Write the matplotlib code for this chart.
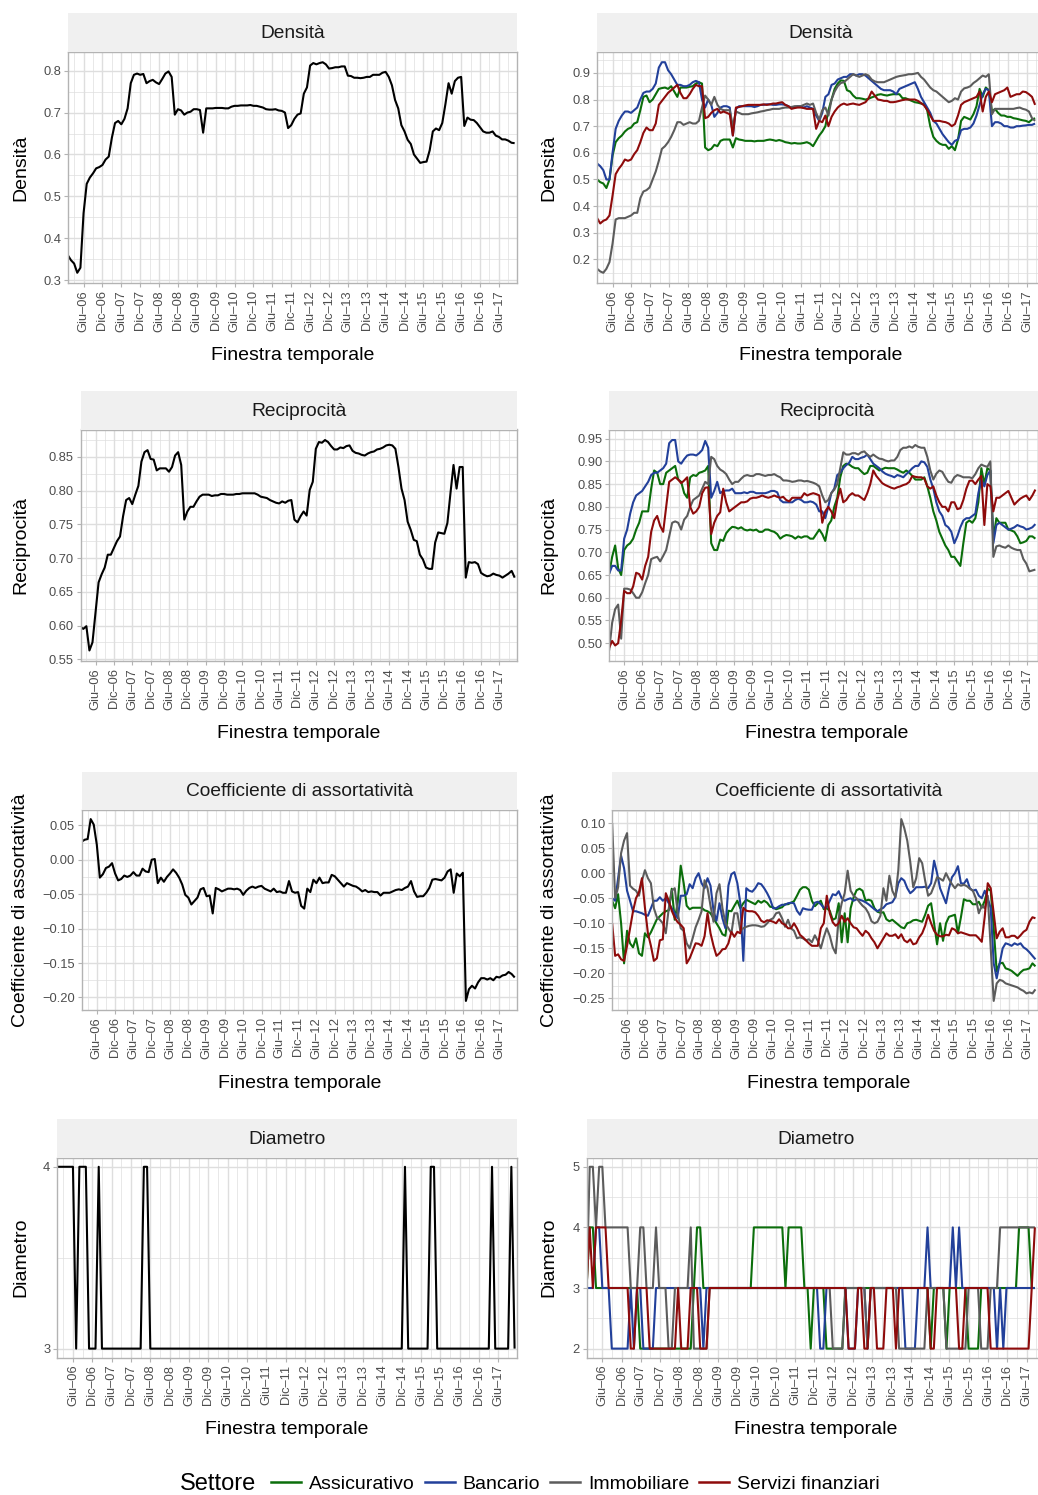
import numpy as np
import matplotlib
matplotlib.use('Agg')
import matplotlib.pyplot as plt
from matplotlib.lines import Line2D
from matplotlib.ticker import FixedLocator, FuncFormatter
from matplotlib import font_manager

plt.rcParams['font.family'] = ['Liberation Sans', 'DejaVu Sans']

# ---------------- data ----------------
# time axis: months relative to June 2006 (Giu-06 = 0)
months_left = np.arange(143) - 5.0
months_right = np.linspace(-4.9, 134.6, 143)

tick_months = [0, 6, 12, 18, 24, 30, 36, 42, 48, 54, 60, 66, 72, 78, 84, 90, 96, 102, 108, 114, 120, 126, 132]
tick_labels = ["Giu\u201306", "Dic\u201306", "Giu\u201307", "Dic\u201307", "Giu\u201308", "Dic\u201308",
               "Giu\u201309", "Dic\u201309", "Giu\u201310", "Dic\u201310", "Giu\u201311", "Dic\u201311",
               "Giu\u201312", "Dic\u201312", "Giu\u201313", "Dic\u201313", "Giu\u201314", "Dic\u201314",
               "Giu\u201315", "Dic\u201315", "Giu\u201316", "Dic\u201316", "Giu\u201317"]

settori = ["Assicurativo", "Bancario", "Immobiliare", "Servizi finanziari"]
colori = ["#0B6E0B", "#22409A", "#5C5C5C", "#8E0B0B"]

# --- whole network (left column)
densita_tot = [0.36, 0.348, 0.34, 0.318, 0.33, 0.46, 0.53, 0.545, 0.555, 0.567,
               0.57, 0.575, 0.588, 0.595, 0.64, 0.675, 0.68, 0.672, 0.685, 0.71,
               0.77, 0.79, 0.793, 0.79, 0.792, 0.77, 0.775, 0.778, 0.772, 0.768,
               0.78, 0.793, 0.798, 0.785, 0.695, 0.708, 0.705, 0.695, 0.70, 0.702,
               0.708, 0.708, 0.706, 0.652, 0.71, 0.71, 0.71, 0.711, 0.711, 0.711,
               0.71, 0.71, 0.714, 0.716, 0.716, 0.717, 0.717, 0.717, 0.718, 0.716,
               0.716, 0.714, 0.712, 0.708, 0.707, 0.707, 0.708, 0.705, 0.704, 0.70,
               0.663, 0.67, 0.685, 0.695, 0.698, 0.745, 0.76, 0.812, 0.818, 0.815,
               0.818, 0.82, 0.815, 0.805, 0.806, 0.808, 0.808, 0.81, 0.81, 0.788,
               0.787, 0.783, 0.783, 0.782, 0.783, 0.785, 0.785, 0.79, 0.79, 0.79,
               0.795, 0.797, 0.785, 0.765, 0.73, 0.71, 0.67, 0.655, 0.635, 0.625,
               0.60, 0.59, 0.58, 0.582, 0.583, 0.61, 0.655, 0.662, 0.658, 0.675,
               0.72, 0.77, 0.745, 0.775, 0.783, 0.785, 0.668, 0.688, 0.683, 0.682,
               0.675, 0.665, 0.655, 0.652, 0.652, 0.655, 0.645, 0.642, 0.636, 0.636,
               0.633, 0.628, 0.627]

reciprocita_tot = [0.598, 0.595, 0.599, 0.563, 0.575, 0.62, 0.664, 0.676, 0.686, 0.705,
                   0.705, 0.715, 0.725, 0.732, 0.762, 0.786, 0.789, 0.78, 0.794, 0.807,
                   0.843, 0.857, 0.86, 0.847, 0.846, 0.83, 0.833, 0.833, 0.833, 0.828,
                   0.835, 0.852, 0.857, 0.838, 0.757, 0.769, 0.776, 0.776, 0.784, 0.791,
                   0.794, 0.794, 0.794, 0.792, 0.793, 0.793, 0.795, 0.795, 0.794, 0.794,
                   0.794, 0.795, 0.795, 0.796, 0.796, 0.796, 0.796, 0.796, 0.794, 0.791,
                   0.79, 0.789, 0.786, 0.784, 0.782, 0.781, 0.784, 0.782, 0.785, 0.786,
                   0.757, 0.753, 0.762, 0.769, 0.763, 0.801, 0.813, 0.862, 0.872, 0.871,
                   0.875, 0.872, 0.866, 0.861, 0.861, 0.864, 0.863, 0.866, 0.867, 0.859,
                   0.856, 0.855, 0.853, 0.852, 0.855, 0.857, 0.858, 0.861, 0.862, 0.864,
                   0.867, 0.868, 0.867, 0.862, 0.835, 0.803, 0.786, 0.754, 0.742, 0.727,
                   0.725, 0.705, 0.698, 0.686, 0.684, 0.684, 0.723, 0.738, 0.737, 0.736,
                   0.752, 0.796, 0.838, 0.803, 0.835, 0.835, 0.671, 0.694, 0.693, 0.694,
                   0.691, 0.678, 0.675, 0.673, 0.674, 0.677, 0.675, 0.674, 0.671, 0.674,
                   0.677, 0.681, 0.671]

assortativita_tot = [0.026, 0.029, 0.030, 0.059, 0.051, 0.022, -0.026, -0.021, -0.012, -0.010,
                     -0.005, -0.020, -0.030, -0.028, -0.023, -0.025, -0.023, -0.018, -0.023, -0.023,
                     -0.013, -0.017, -0.018, 0.000, 0.001, -0.034, -0.026, -0.032, -0.025, -0.020,
                     -0.014, -0.019, -0.026, -0.036, -0.051, -0.055, -0.065, -0.060, -0.055, -0.043,
                     -0.041, -0.053, -0.052, -0.078, -0.041, -0.043, -0.046, -0.044, -0.042, -0.042,
                     -0.043, -0.042, -0.044, -0.051, -0.045, -0.041, -0.039, -0.041, -0.039, -0.038,
                     -0.042, -0.044, -0.046, -0.042, -0.047, -0.046, -0.048, -0.048, -0.031, -0.046,
                     -0.048, -0.047, -0.067, -0.071, -0.042, -0.047, -0.029, -0.034, -0.026, -0.034,
                     -0.033, -0.033, -0.022, -0.024, -0.029, -0.034, -0.039, -0.034, -0.036, -0.038,
                     -0.039, -0.042, -0.046, -0.044, -0.047, -0.046, -0.047, -0.047, -0.052, -0.048,
                     -0.048, -0.048, -0.046, -0.044, -0.043, -0.044, -0.041, -0.039, -0.031, -0.046,
                     -0.054, -0.053, -0.053, -0.048, -0.041, -0.029, -0.028, -0.029, -0.030, -0.026,
                     -0.017, -0.014, -0.048, -0.020, -0.024, -0.019, -0.205, -0.188, -0.183, -0.187,
                     -0.178, -0.172, -0.172, -0.174, -0.172, -0.175, -0.170, -0.171, -0.168, -0.167,
                     -0.163, -0.166, -0.171]

diametro_tot = [4, 4, 4, 4, 4, 4, 3, 4, 4, 4,
                3, 3, 3, 4, 3, 3, 3, 3, 3, 3,
                3, 3, 3, 3, 3, 3, 3, 4, 4, 3,
                3, 3, 3, 3, 3, 3, 3, 3, 3, 3,
                3, 3, 3, 3, 3, 3, 3, 3, 3, 3,
                3, 3, 3, 3, 3, 3, 3, 3, 3, 3,
                3, 3, 3, 3, 3, 3, 3, 3, 3, 3,
                3, 3, 3, 3, 3, 3, 3, 3, 3, 3,
                3, 3, 3, 3, 3, 3, 3, 3, 3, 3,
                3, 3, 3, 3, 3, 3, 3, 3, 3, 3,
                3, 3, 3, 3, 3, 3, 3, 3, 4, 3,
                3, 3, 3, 3, 3, 3, 4, 4, 3, 3,
                3, 3, 3, 3, 3, 3, 3, 3, 3, 3,
                3, 3, 3, 3, 3, 4, 3, 3, 3, 3,
                3, 4, 3]

# --- by sector (right column)
densita_assicurativo = [0.50, 0.49, 0.485, 0.468, 0.50, 0.59, 0.64, 0.655, 0.665, 0.68,
                        0.69, 0.695, 0.71, 0.715, 0.76, 0.81, 0.815, 0.79, 0.80, 0.82,
                        0.84, 0.843, 0.845, 0.84, 0.85, 0.83, 0.81, 0.845, 0.845, 0.845,
                        0.848, 0.85, 0.86, 0.865, 0.86, 0.62, 0.61, 0.615, 0.63, 0.625,
                        0.645, 0.65, 0.65, 0.65, 0.62, 0.655, 0.65, 0.648, 0.645, 0.645,
                        0.645, 0.643, 0.645, 0.645, 0.645, 0.648, 0.65, 0.648, 0.645, 0.648,
                        0.645, 0.64, 0.638, 0.635, 0.637, 0.635, 0.635, 0.637, 0.64, 0.635,
                        0.625, 0.645, 0.665, 0.68, 0.70, 0.76, 0.80, 0.84, 0.86, 0.872,
                        0.87, 0.835, 0.83, 0.815, 0.805, 0.805, 0.803, 0.80, 0.803, 0.808,
                        0.812, 0.818, 0.82, 0.817, 0.815, 0.818, 0.82, 0.82, 0.82, 0.805,
                        0.805, 0.80, 0.795, 0.79, 0.788, 0.785, 0.783, 0.76, 0.70, 0.66,
                        0.645, 0.635, 0.63, 0.63, 0.615, 0.625, 0.61, 0.65, 0.72, 0.735,
                        0.73, 0.725, 0.745, 0.775, 0.84, 0.81, 0.845, 0.835, 0.755, 0.765,
                        0.75, 0.74, 0.74, 0.735, 0.735, 0.73, 0.728, 0.725, 0.722, 0.72,
                        0.715, 0.725, 0.73]

densita_bancario = [0.56, 0.55, 0.535, 0.50, 0.50, 0.60, 0.69, 0.72, 0.74, 0.755,
                    0.755, 0.75, 0.76, 0.77, 0.80, 0.825, 0.83, 0.83, 0.84, 0.86,
                    0.92, 0.94, 0.94, 0.91, 0.895, 0.875, 0.855, 0.855, 0.85, 0.85,
                    0.855, 0.865, 0.87, 0.865, 0.80, 0.77, 0.80, 0.78, 0.735, 0.75,
                    0.77, 0.775, 0.775, 0.77, 0.665, 0.765, 0.775, 0.775, 0.775, 0.775,
                    0.775, 0.772, 0.775, 0.78, 0.78, 0.782, 0.782, 0.78, 0.78, 0.782,
                    0.782, 0.78, 0.775, 0.77, 0.772, 0.775, 0.775, 0.77, 0.775, 0.77,
                    0.765, 0.74, 0.72, 0.75, 0.81, 0.82, 0.855, 0.86, 0.875, 0.88,
                    0.885, 0.885, 0.895, 0.895, 0.89, 0.895, 0.895, 0.89, 0.88, 0.87,
                    0.86, 0.85, 0.84, 0.835, 0.835, 0.835, 0.83, 0.82, 0.84, 0.845,
                    0.85, 0.855, 0.86, 0.865, 0.84, 0.81, 0.79, 0.77, 0.75, 0.72,
                    0.71, 0.69, 0.67, 0.655, 0.64, 0.63, 0.645, 0.65, 0.685, 0.69,
                    0.69, 0.695, 0.71, 0.74, 0.78, 0.82, 0.84, 0.835, 0.70, 0.715,
                    0.715, 0.71, 0.70, 0.70, 0.695, 0.695, 0.70, 0.70, 0.702, 0.703,
                    0.705, 0.705, 0.71]

densita_immobiliare = [0.165, 0.155, 0.15, 0.165, 0.19, 0.26, 0.35, 0.355, 0.355, 0.355,
                       0.36, 0.365, 0.375, 0.375, 0.43, 0.455, 0.46, 0.47, 0.50, 0.53,
                       0.57, 0.615, 0.625, 0.64, 0.66, 0.685, 0.715, 0.715, 0.705, 0.71,
                       0.715, 0.71, 0.71, 0.72, 0.77, 0.815, 0.80, 0.78, 0.81, 0.78,
                       0.765, 0.76, 0.76, 0.76, 0.70, 0.755, 0.75, 0.745, 0.745, 0.745,
                       0.748, 0.75, 0.752, 0.755, 0.757, 0.76, 0.762, 0.765, 0.765, 0.765,
                       0.768, 0.77, 0.77, 0.772, 0.775, 0.775, 0.775, 0.78, 0.785, 0.78,
                       0.785, 0.75, 0.725, 0.76, 0.77, 0.74, 0.80, 0.83, 0.85, 0.862,
                       0.865, 0.875, 0.885, 0.895, 0.89, 0.885, 0.89, 0.895, 0.89, 0.875,
                       0.868, 0.865, 0.865, 0.865, 0.87, 0.875, 0.88, 0.885, 0.888, 0.89,
                       0.892, 0.895, 0.895, 0.897, 0.90, 0.885, 0.875, 0.86, 0.845, 0.835,
                       0.83, 0.82, 0.81, 0.80, 0.79, 0.795, 0.805, 0.80, 0.83, 0.842,
                       0.845, 0.85, 0.862, 0.87, 0.88, 0.89, 0.885, 0.895, 0.745, 0.765,
                       0.765, 0.765, 0.765, 0.765, 0.765, 0.765, 0.768, 0.77, 0.765, 0.762,
                       0.755, 0.73, 0.72]

densita_servizi = [0.355, 0.335, 0.345, 0.35, 0.365, 0.44, 0.52, 0.54, 0.555, 0.575,
                   0.57, 0.575, 0.595, 0.61, 0.64, 0.675, 0.695, 0.685, 0.685, 0.71,
                   0.78, 0.795, 0.81, 0.825, 0.835, 0.845, 0.855, 0.825, 0.805, 0.805,
                   0.82, 0.84, 0.855, 0.85, 0.85, 0.73, 0.735, 0.75, 0.76, 0.765,
                   0.75, 0.755, 0.75, 0.745, 0.665, 0.77, 0.772, 0.775, 0.778, 0.78,
                   0.78, 0.78, 0.78, 0.78, 0.782, 0.78, 0.782, 0.785, 0.785, 0.788,
                   0.79, 0.78, 0.775, 0.765, 0.768, 0.77, 0.77, 0.768, 0.765, 0.765,
                   0.765, 0.69, 0.72, 0.715, 0.74, 0.70, 0.735, 0.755, 0.77, 0.78,
                   0.785, 0.78, 0.783, 0.785, 0.782, 0.78, 0.785, 0.79, 0.805, 0.83,
                   0.815, 0.80, 0.798, 0.795, 0.795, 0.79, 0.79, 0.792, 0.795, 0.798,
                   0.80, 0.80, 0.80, 0.80, 0.795, 0.787, 0.778, 0.762, 0.74, 0.72,
                   0.72, 0.72, 0.717, 0.715, 0.71, 0.70, 0.708, 0.74, 0.78, 0.79,
                   0.795, 0.80, 0.805, 0.81, 0.83, 0.755, 0.81, 0.83, 0.79, 0.82,
                   0.825, 0.83, 0.835, 0.845, 0.81, 0.815, 0.82, 0.82, 0.83, 0.828,
                   0.82, 0.81, 0.78]

reciprocita_assicurativo = [0.653, 0.69, 0.715, 0.665, 0.65, 0.705, 0.715, 0.72, 0.73, 0.75,
                            0.765, 0.79, 0.79, 0.79, 0.84, 0.88, 0.875, 0.85, 0.85, 0.875,
                            0.88, 0.885, 0.89, 0.86, 0.855, 0.83, 0.82, 0.865, 0.87, 0.868,
                            0.875, 0.877, 0.88, 0.89, 0.72, 0.705, 0.705, 0.728, 0.725, 0.742,
                            0.75, 0.756, 0.755, 0.752, 0.755, 0.75, 0.748, 0.75, 0.748, 0.75,
                            0.745, 0.745, 0.75, 0.75, 0.747, 0.745, 0.74, 0.73, 0.735, 0.738,
                            0.737, 0.735, 0.73, 0.735, 0.732, 0.735, 0.735, 0.73, 0.73, 0.74,
                            0.75, 0.74, 0.725, 0.76, 0.77, 0.80, 0.82, 0.865, 0.89, 0.895,
                            0.893, 0.888, 0.885, 0.885, 0.878, 0.872, 0.875, 0.89, 0.89, 0.885,
                            0.88, 0.883, 0.886, 0.885, 0.885, 0.885, 0.882, 0.878, 0.875, 0.88,
                            0.875, 0.868, 0.86, 0.86, 0.86, 0.865, 0.845, 0.82, 0.79, 0.77,
                            0.745, 0.73, 0.715, 0.705, 0.69, 0.69, 0.68, 0.67, 0.72, 0.765,
                            0.77, 0.765, 0.775, 0.81, 0.885, 0.85, 0.885, 0.88, 0.73, 0.775,
                            0.765, 0.765, 0.765, 0.75, 0.748, 0.745, 0.735, 0.72, 0.722, 0.725,
                            0.735, 0.735, 0.73]

reciprocita_bancario = [0.653, 0.67, 0.67, 0.66, 0.66, 0.73, 0.75, 0.785, 0.81, 0.825,
                        0.83, 0.835, 0.845, 0.855, 0.87, 0.875, 0.875, 0.88, 0.885, 0.895,
                        0.94, 0.947, 0.947, 0.90, 0.895, 0.905, 0.913, 0.915, 0.915, 0.913,
                        0.918, 0.925, 0.945, 0.93, 0.82, 0.835, 0.855, 0.83, 0.835, 0.836,
                        0.836, 0.84, 0.83, 0.83, 0.83, 0.832, 0.83, 0.833, 0.833, 0.83,
                        0.83, 0.83, 0.83, 0.832, 0.835, 0.835, 0.832, 0.815, 0.81, 0.81,
                        0.81, 0.81, 0.815, 0.818, 0.815, 0.81, 0.81, 0.812, 0.81, 0.805,
                        0.79, 0.79, 0.775, 0.80, 0.83, 0.84, 0.87, 0.875, 0.885, 0.892,
                        0.897, 0.91, 0.905, 0.905, 0.908, 0.91, 0.915, 0.905, 0.895, 0.89,
                        0.885, 0.878, 0.873, 0.87, 0.868, 0.865, 0.87, 0.868, 0.865, 0.872,
                        0.878, 0.885, 0.89, 0.89, 0.90, 0.898, 0.888, 0.86, 0.84, 0.81,
                        0.79, 0.78, 0.76, 0.755, 0.745, 0.72, 0.735, 0.755, 0.77, 0.775,
                        0.775, 0.78, 0.785, 0.83, 0.86, 0.845, 0.87, 0.88, 0.72, 0.76,
                        0.765, 0.76, 0.755, 0.75, 0.752, 0.755, 0.76, 0.757, 0.755, 0.75,
                        0.752, 0.755, 0.762]

reciprocita_immobiliare = [0.484, 0.545, 0.575, 0.585, 0.51, 0.62, 0.62, 0.618, 0.61, 0.60,
                           0.60, 0.612, 0.632, 0.65, 0.685, 0.688, 0.69, 0.68, 0.692, 0.705,
                           0.735, 0.765, 0.768, 0.765, 0.75, 0.772, 0.78, 0.80, 0.815, 0.82,
                           0.825, 0.84, 0.855, 0.85, 0.91, 0.905, 0.89, 0.882, 0.878, 0.872,
                           0.86, 0.85, 0.855, 0.855, 0.862, 0.868, 0.87, 0.868, 0.868, 0.872,
                           0.872, 0.87, 0.868, 0.87, 0.87, 0.872, 0.868, 0.865, 0.858, 0.858,
                           0.857, 0.855, 0.856, 0.858, 0.858, 0.856, 0.857, 0.855, 0.853, 0.85,
                           0.845, 0.825, 0.81, 0.815, 0.83, 0.838, 0.85, 0.885, 0.92, 0.915,
                           0.915, 0.918, 0.918, 0.915, 0.92, 0.922, 0.915, 0.91, 0.915, 0.91,
                           0.906, 0.905, 0.902, 0.90, 0.902, 0.902, 0.91, 0.925, 0.93, 0.93,
                           0.933, 0.93, 0.936, 0.932, 0.93, 0.93, 0.91, 0.88, 0.86, 0.873,
                           0.88, 0.877, 0.865, 0.855, 0.853, 0.865, 0.87, 0.868, 0.865, 0.865,
                           0.865, 0.863, 0.872, 0.885, 0.893, 0.89, 0.888, 0.90, 0.69, 0.713,
                           0.715, 0.712, 0.71, 0.715, 0.71, 0.707, 0.705, 0.705, 0.685, 0.675,
                           0.658, 0.66, 0.662]

reciprocita_servizi = [0.49, 0.505, 0.495, 0.50, 0.55, 0.615, 0.61, 0.61, 0.625, 0.655,
                       0.652, 0.64, 0.67, 0.69, 0.745, 0.77, 0.78, 0.758, 0.745, 0.80,
                       0.855, 0.86, 0.865, 0.86, 0.852, 0.858, 0.865, 0.80, 0.785, 0.79,
                       0.80, 0.83, 0.842, 0.843, 0.74, 0.765, 0.78, 0.788, 0.84, 0.81,
                       0.79, 0.795, 0.80, 0.805, 0.81, 0.81, 0.812, 0.818, 0.82, 0.82,
                       0.822, 0.825, 0.822, 0.82, 0.822, 0.825, 0.822, 0.82, 0.822, 0.815,
                       0.812, 0.82, 0.82, 0.82, 0.82, 0.83, 0.825, 0.828, 0.83, 0.828,
                       0.825, 0.765, 0.79, 0.80, 0.79, 0.775, 0.815, 0.84, 0.81, 0.815,
                       0.825, 0.83, 0.825, 0.825, 0.82, 0.815, 0.83, 0.85, 0.88, 0.868,
                       0.86, 0.852, 0.848, 0.845, 0.842, 0.84, 0.843, 0.845, 0.848, 0.85,
                       0.855, 0.868, 0.866, 0.865, 0.865, 0.862, 0.845, 0.84, 0.845, 0.825,
                       0.81, 0.80, 0.80, 0.79, 0.81, 0.81, 0.795, 0.797, 0.815, 0.84,
                       0.857, 0.858, 0.85, 0.86, 0.868, 0.76, 0.85, 0.845, 0.79, 0.82,
                       0.82, 0.825, 0.83, 0.835, 0.82, 0.805, 0.812, 0.818, 0.822, 0.825,
                       0.815, 0.825, 0.838]

assortativita_assicurativo = [-0.055, -0.07, -0.042, -0.1, -0.18, -0.115, -0.14, -0.148, -0.13, -0.16,
                              -0.165, -0.12, -0.128, -0.118, -0.105, -0.092, -0.086, -0.08, -0.076, -0.074,
                              -0.031, -0.093, -0.058, 0.015, -0.02, -0.065, -0.072, -0.069, -0.069, -0.069,
                              -0.069, -0.074, -0.076, -0.08, -0.09, -0.10, -0.11, -0.122, -0.125, -0.075,
                              -0.076, -0.065, -0.055, -0.07, -0.06, -0.053, -0.056, -0.059, -0.062, -0.055,
                              -0.059, -0.055, -0.059, -0.067, -0.068, -0.072, -0.07, -0.068, -0.062, -0.062,
                              -0.059, -0.056, -0.045, -0.033, -0.028, -0.028, -0.033, -0.055, -0.066, -0.06,
                              -0.055, -0.072, -0.07, -0.075, -0.093, -0.09, -0.06, -0.138, -0.08, -0.138,
                              -0.07, -0.048, -0.034, -0.031, -0.035, -0.055, -0.053, -0.055, -0.07, -0.077,
                              -0.079, -0.078, -0.092, -0.096, -0.093, -0.098, -0.103, -0.108, -0.11, -0.10,
                              -0.098, -0.094, -0.093, -0.095, -0.097, -0.083, -0.065, -0.06, -0.10, -0.142,
                              -0.10, -0.135, -0.10, -0.087, -0.085, -0.083, -0.12, -0.088, -0.052, -0.055,
                              -0.055, -0.062, -0.062, -0.057, -0.069, -0.055, -0.031, -0.035, -0.11, -0.196,
                              -0.18, -0.179, -0.19, -0.192, -0.195, -0.20, -0.205, -0.198, -0.193, -0.192,
                              -0.19, -0.18, -0.186]

assortativita_bancario = [-0.05, -0.055, -0.01, 0.035, 0.01, -0.035, -0.055, -0.076, -0.076, -0.078,
                          -0.08, -0.083, -0.085, -0.07, -0.055, -0.055, -0.048, -0.055, -0.05, -0.06,
                          -0.07, -0.08, -0.09, -0.045, -0.045, -0.042, -0.022, -0.03, -0.01, 0.0,
                          -0.02, -0.03, -0.01, -0.025, -0.075, -0.095, -0.06, -0.09, -0.11, -0.025,
                          -0.002, 0.002, -0.02, -0.06, -0.175, -0.03, -0.035, -0.037, -0.03, -0.02,
                          -0.022, -0.03, -0.04, -0.052, -0.07, -0.07, -0.066, -0.063, -0.063, -0.06,
                          -0.059, -0.06, -0.075, -0.083, -0.07, -0.072, -0.073, -0.073, -0.059, -0.057,
                          -0.062, -0.069, -0.068, -0.055, -0.042, -0.044, -0.036, -0.05, -0.055, -0.052,
                          -0.05, -0.055, -0.052, -0.053, -0.055, -0.058, -0.062, -0.067, -0.072, -0.076,
                          -0.072, -0.069, -0.062, -0.06, -0.058, -0.048, -0.02, -0.01, -0.015, -0.03,
                          -0.04, -0.035, -0.028, -0.028, -0.028, -0.027, -0.03, -0.02, 0.025, 0.0,
                          -0.03, -0.045, -0.06, -0.03, -0.008, 0.0, 0.014, -0.02, -0.021, -0.012,
                          -0.03, -0.035, -0.033, -0.045, -0.05, -0.035, -0.05, -0.07, -0.18, -0.21,
                          -0.18, -0.15, -0.14, -0.142, -0.145, -0.14, -0.143, -0.14, -0.148, -0.152,
                          -0.158, -0.165, -0.172]

assortativita_immobiliare = [0.10, -0.049, -0.028, 0.04, 0.065, 0.08, -0.025, -0.031, -0.035, -0.045,
                             -0.015, 0.006, -0.01, -0.02, -0.07, -0.088, -0.093, -0.10, -0.12, -0.07,
                             -0.035, -0.03, -0.08, -0.11, -0.115, -0.14, -0.15, -0.13, -0.108, -0.093,
                             -0.076, -0.014, -0.03, -0.065, -0.097, -0.04, -0.022, -0.07, -0.10, -0.11,
                             -0.12, -0.08, -0.08, -0.115, -0.11, -0.107, -0.105, -0.104, -0.104, -0.105,
                             -0.107, -0.106, -0.10, -0.093, -0.09, -0.08, -0.078, -0.09, -0.107, -0.093,
                             -0.11, -0.115, -0.13, -0.128, -0.13, -0.134, -0.132, -0.138, -0.124, -0.135,
                             -0.15, -0.128, -0.11, -0.125, -0.148, -0.16, -0.09, -0.06, -0.04, 0.005,
                             -0.035, -0.045, -0.05, -0.058, -0.065, -0.07, -0.08, -0.096, -0.10, -0.097,
                             -0.085, -0.03, -0.055, -0.005, -0.035, -0.048, 0.006, 0.108, 0.09, 0.065,
                             0.023, -0.028, -0.01, 0.03, 0.02, -0.015, -0.045, -0.04, -0.025, -0.008,
                             -0.011, -0.015, 0.0, -0.012, -0.022, -0.03, -0.022, -0.025, -0.023, -0.026,
                             -0.031, -0.035, -0.05, -0.08, -0.065, -0.07, -0.045, -0.15, -0.255, -0.22,
                             -0.213, -0.215, -0.22, -0.222, -0.224, -0.226, -0.228, -0.232, -0.235, -0.24,
                             -0.238, -0.24, -0.232]

assortativita_servizi = [-0.10, -0.165, -0.162, -0.172, -0.175, -0.145, -0.11, -0.076, -0.05, -0.038,
                         -0.01, -0.069, -0.12, -0.145, -0.175, -0.17, -0.134, -0.132, -0.04, -0.055,
                         -0.075, -0.089, -0.098, -0.103, -0.11, -0.18, -0.17, -0.155, -0.14, -0.141,
                         -0.145, -0.126, -0.08, -0.12, -0.145, -0.165, -0.16, -0.152, -0.151, -0.14,
                         -0.117, -0.127, -0.117, -0.12, -0.069, -0.075, -0.076, -0.076, -0.078, -0.085,
                         -0.095, -0.098, -0.094, -0.095, -0.097, -0.10, -0.092, -0.10, -0.103, -0.11,
                         -0.11, -0.10, -0.11, -0.123, -0.128, -0.134, -0.14, -0.145, -0.145, -0.145,
                         -0.11, -0.10, -0.045, -0.08, -0.098, -0.105, -0.10, -0.085, -0.097, -0.09,
                         -0.10, -0.108, -0.11, -0.118, -0.125, -0.115, -0.12, -0.13, -0.138, -0.15,
                         -0.14, -0.13, -0.12, -0.125, -0.125, -0.122, -0.13, -0.122, -0.134, -0.138,
                         -0.132, -0.142, -0.14, -0.128, -0.12, -0.105, -0.083, -0.10, -0.115, -0.123,
                         -0.126, -0.126, -0.123, -0.124, -0.11, -0.113, -0.12, -0.118, -0.12, -0.122,
                         -0.124, -0.124, -0.124, -0.13, -0.137, -0.086, -0.02, -0.03, -0.08, -0.13,
                         -0.117, -0.11, -0.128, -0.128, -0.125, -0.125, -0.13, -0.124, -0.117, -0.113,
                         -0.097, -0.088, -0.09]

diametro_assicurativo = [3, 4, 4, 3, 3, 3, 3, 3, 3, 3,
                         3, 3, 3, 3, 3, 3, 3, 2, 2, 2,
                         2, 2, 2, 2, 2, 2, 2, 2, 2, 2,
                         2, 2, 2, 2, 3, 4, 4, 3, 3, 3,
                         3, 3, 3, 3, 3, 3, 3, 3, 3, 3,
                         3, 3, 3, 4, 4, 4, 4, 4, 4, 4,
                         4, 4, 4, 3, 4, 4, 4, 4, 4, 3,
                         3, 2, 3, 3, 3, 3, 2, 2, 2, 2,
                         2, 2, 3, 3, 3, 3, 3, 3, 3, 3,
                         3, 3, 3, 3, 3, 3, 3, 3, 3, 3,
                         3, 3, 3, 3, 3, 3, 3, 3, 3, 2,
                         3, 3, 3, 3, 2, 3, 3, 3, 3, 3,
                         3, 2, 2, 2, 2, 3, 3, 3, 3, 3,
                         3, 3, 3, 3, 3, 3, 3, 4, 4, 4,
                         4, 3, 3]

diametro_bancario = [3, 3, 3, 4, 4, 3, 3, 3, 2, 2,
                     2, 2, 2, 2, 3, 2, 3, 3, 2, 2,
                     2, 2, 3, 3, 3, 3, 3, 3, 3, 3,
                     3, 3, 3, 3, 3, 3, 3, 2, 3, 3,
                     3, 3, 3, 3, 3, 3, 3, 3, 3, 3,
                     3, 3, 3, 3, 3, 3, 3, 3, 3, 3,
                     3, 3, 3, 3, 3, 3, 3, 3, 3, 3,
                     3, 3, 3, 3, 2, 2, 3, 3, 3, 3,
                     3, 3, 3, 2, 2, 2, 3, 3, 3, 2,
                     3, 3, 3, 3, 3, 3, 3, 3, 3, 3,
                     3, 2, 2, 2, 2, 3, 3, 3, 4, 3,
                     3, 3, 3, 3, 3, 3, 4, 3, 4, 3,
                     3, 3, 3, 3, 3, 3, 3, 3, 3, 3,
                     2, 3, 2, 3, 3, 3, 3, 3, 3, 3,
                     3, 3, 3]

diametro_immobiliare = [3, 5, 5, 4, 5, 5, 4, 4, 4, 4,
                        4, 4, 4, 4, 3, 3, 3, 4, 4, 3,
                        3, 3, 4, 3, 3, 3, 2, 2, 3, 3,
                        3, 3, 3, 4, 2, 2, 2, 2, 2, 3,
                        3, 3, 3, 3, 3, 3, 3, 3, 3, 3,
                        3, 3, 3, 3, 3, 3, 3, 3, 3, 3,
                        3, 3, 3, 3, 3, 3, 3, 3, 3, 3,
                        3, 3, 3, 3, 3, 3, 3, 3, 2, 2,
                        2, 2, 3, 3, 3, 3, 3, 3, 3, 2,
                        3, 3, 3, 3, 3, 3, 3, 3, 3, 2,
                        2, 2, 2, 2, 2, 2, 2, 2, 3, 3,
                        3, 3, 3, 3, 2, 2, 2, 2, 2, 2,
                        2, 3, 3, 3, 3, 2, 2, 2, 3, 3,
                        3, 4, 4, 4, 4, 4, 4, 4, 4, 4,
                        4, 4, 4]

diametro_servizi = [3, 4, 3, 4, 4, 4, 4, 3, 3, 3,
                    3, 3, 3, 3, 2, 2, 3, 3, 3, 3,
                    2, 2, 2, 2, 2, 2, 2, 2, 2, 3,
                    2, 2, 2, 3, 3, 3, 2, 2, 2, 3,
                    3, 3, 3, 3, 3, 3, 3, 3, 3, 3,
                    3, 3, 3, 3, 3, 3, 3, 3, 3, 3,
                    3, 3, 3, 3, 3, 3, 3, 3, 3, 3,
                    3, 3, 3, 3, 3, 3, 3, 3, 3, 3,
                    3, 3, 3, 2, 2, 2, 3, 3, 2, 2,
                    3, 3, 2, 2, 2, 3, 3, 3, 2, 3,
                    3, 3, 3, 3, 3, 3, 3, 3, 3, 2,
                    2, 3, 3, 3, 3, 3, 3, 3, 2, 2,
                    3, 3, 3, 3, 3, 3, 3, 3, 2, 2,
                    2, 2, 2, 2, 2, 2, 2, 2, 2, 2,
                    2, 3, 4]

yticks_dens_left = [0.3, 0.4, 0.5, 0.6, 0.7, 0.8]
yticks_dens_right = [0.2, 0.3, 0.4, 0.5, 0.6, 0.7, 0.8, 0.9]
yticks_rec_left = [0.55, 0.60, 0.65, 0.70, 0.75, 0.80, 0.85]
yticks_rec_right = [0.50, 0.55, 0.60, 0.65, 0.70, 0.75, 0.80, 0.85, 0.90, 0.95]
yticks_ass_left = [-0.20, -0.15, -0.10, -0.05, 0.00, 0.05]
yticks_ass_right = [-0.25, -0.20, -0.15, -0.10, -0.05, 0.00, 0.05, 0.10]
yticks_diam_left = [3, 4]
yticks_diam_right = [2, 3, 4, 5]

# ---------------- figure ----------------
W, H = 1038, 1495
fig = plt.figure(figsize=(W / 100, H / 100), dpi=100)
fig.patch.set_facecolor('white')

GRID = '#DEDEDE'
BORDER = '#B3B3B3'
TXT = '#4D4D4D'
STRIP_H = 38.5


def make_formatter(fmt):
    return FuncFormatter(lambda v, p: fmt.format(round(v, 6) + 0.0).replace('-', '\u2212'))


def panel(x0, x1, y0, y1, title, ylabel, yticks, fmt, series, xvals):
    ax = fig.add_axes([x0 / W, 1 - y1 / H, (x1 - x0) / W, (y1 - y0) / H])
    sax = fig.add_axes([x0 / W, 1 - y0 / H, (x1 - x0) / W, STRIP_H / H])
    sax.set_facecolor('#F0F0F0')
    sax.set_xticks([])
    sax.set_yticks([])
    for s in sax.spines.values():
        s.set_visible(False)
    sax.text(0.5, 0.47, title, ha='center', va='center', fontsize=13.8, color='#1A1A1A',
             transform=sax.transAxes)

    for vals, col in series:
        ax.plot(xvals, vals, color=col, lw=1.5, solid_joinstyle='round', solid_capstyle='butt')

    ax.set_xlim(-4.85, 137.75)
    ax.margins(y=0.05)
    ax.autoscale(axis='y')

    ax.xaxis.set_major_locator(FixedLocator(tick_months))
    ax.xaxis.set_minor_locator(FixedLocator(list(range(-3, 138, 6))))
    ax.set_xticklabels(tick_labels, rotation=90, fontsize=9.3, color=TXT)
    step = yticks[1] - yticks[0]
    ax.yaxis.set_major_locator(FixedLocator(yticks))
    ax.yaxis.set_minor_locator(FixedLocator([t - step / 2 for t in yticks] + [yticks[-1] + step / 2]))
    ax.yaxis.set_major_formatter(make_formatter(fmt))
    ax.grid(which='major', color=GRID, lw=1.0)
    ax.grid(which='minor', color=GRID, lw=0.5)
    ax.set_axisbelow(True)
    ax.tick_params(which='major', length=3, width=0.8, color=BORDER, labelsize=9.3,
                   labelcolor=TXT, pad=2)
    ax.tick_params(which='minor', length=0)
    for s in ax.spines.values():
        s.set_color(BORDER)
        s.set_linewidth(1.0)
    return ax


def ftext(x, y, s, **kw):
    fig.text(x / W, 1 - y / H, s, **kw)


rows = [
    # (y0, y1, title, ylabel, left x0, right x0, yt_left, yt_right, fmt, left data, right data, xtitle y)
    (51.7, 283.3, "Densit\u00e0", 68.3, 597.3, yticks_dens_left, yticks_dens_right, "{:.1f}",
     densita_tot, [densita_assicurativo, densita_bancario, densita_immobiliare, densita_servizi], 355),
    (429.5, 661.0, "Reciprocit\u00e0", 80.7, 609.3, yticks_rec_left, yticks_rec_right, "{:.2f}",
     reciprocita_tot, [reciprocita_assicurativo, reciprocita_bancario, reciprocita_immobiliare, reciprocita_servizi], 733),
    (810.0, 1010.0, "Coefficiente di assortativit\u00e0", 82.0, 612.3, yticks_ass_left, yticks_ass_right, "{:.2f}",
     assortativita_tot, [assortativita_assicurativo, assortativita_bancario, assortativita_immobiliare, assortativita_servizi], 1083),
    (1157.7, 1357.7, "Diametro", 57.3, 586.7, yticks_diam_left, yticks_diam_right, "{:.0f}",
     diametro_tot, [diametro_assicurativo, diametro_bancario, diametro_immobiliare, diametro_servizi], 1430),
]

for (y0, y1, title, xl, xr, ytl, ytr, fmt, dleft, dright, xt_y) in rows:
    panel(xl, 517.0, y0, y1, title, title, ytl, fmt, [(dleft, 'black')], months_left)
    panel(xr, 1045.0, y0, y1, title, title, ytr, fmt,
          list(zip(dright, colori)), months_right)
    yc = (y0 + y1) / 2
    ftext(20.5, yc, title, rotation=90, ha='center', va='center', fontsize=14, color='black')
    ftext(549.0, yc, title, rotation=90, ha='center', va='center', fontsize=14, color='black')
    ftext((xl + 517.0) / 2, xt_y, "Finestra temporale", ha='center', va='center', fontsize=14, color='black')
    ftext((xr + 1045.0) / 2, xt_y, "Finestra temporale", ha='center', va='center', fontsize=14, color='black')

# ---------------- legend ----------------
try:
    font_manager.findfont('Liberation Sans Narrow', fallback_to_default=False)
    leg_family = ['Liberation Sans Narrow', 'Liberation Sans', 'DejaVu Sans']
    title_size, entry_size = 20.5, 17
except Exception:
    leg_family = ['Liberation Sans', 'DejaVu Sans']
    title_size, entry_size = 17, 14

ftext(180, 1484, "Settore", ha='left', va='center', fontsize=title_size, family=leg_family, color='black')
handles = [Line2D([0], [0], color=c, lw=1.8) for c in colori]
em = entry_size * 100 / 72
fig.legend(handles, settori, loc='center', bbox_to_anchor=(575.5 / W, 1 - 1484 / H), ncol=4,
           frameon=False, handlelength=30 / em, handletextpad=8 / em, columnspacing=10 / em,
           borderpad=0, borderaxespad=0, prop={'family': leg_family, 'size': entry_size})

fig.savefig('out.png', dpi=100)
